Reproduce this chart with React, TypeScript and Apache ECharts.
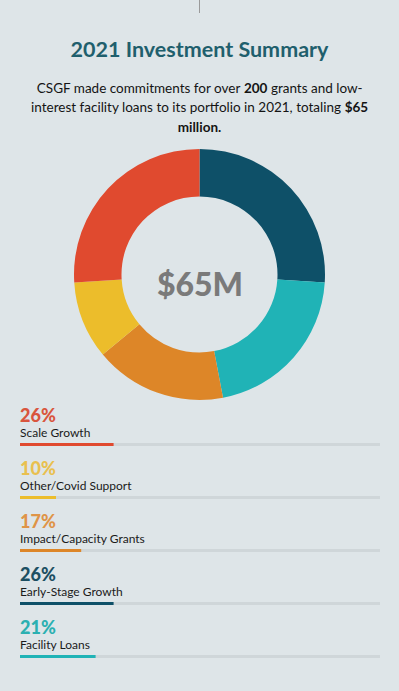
import React, { useEffect, useRef } from "react";
import * as echarts from "echarts";

const categories = ["Scale Growth", "Other/Covid Support", "Impact/Capacity Grants", "Early-Stage Growth", "Facility Loans"];
const shares = [26, 10, 17, 26, 21];
const barColors = ["#e04a2f", "#ecbd2b", "#dd8628", "#0e5068", "#20b3b6"];
const pctColors = ["#d9553d", "#e9c04f", "#df9447", "#1c4f62", "#2bb0b1"];
const pieOrder = [3, 4, 2, 1, 0];
const totalLabel = "$65M";
const titleText = "2021 Investment Summary";
const axisMax = 100;

export default function App() {
  const ref = useRef<HTMLDivElement>(null);
  useEffect(() => {
    if (!ref.current) return;
    const chart = echarts.init(ref.current, null, { renderer: "svg" });
    const rich: any = {
      n: { fontFamily: "Lato", fontSize: 12, color: "#1a1a1a", lineHeight: 15 },
    };
    pctColors.forEach((c, i) => {
      rich["p" + i] = { fontFamily: "Lato", fontSize: 18, fontWeight: 900, color: c, lineHeight: 19 };
    });
    const sub = { fontFamily: "Lato", fontSize: 13.5, lineHeight: 19.5, fill: "#141414" };
    chart.setOption({
      animation: false,
      backgroundColor: "#dee5e8",
      title: [
        {
          text: titleText,
          left: "center",
          top: 33,
          textStyle: { fontFamily: "Lato", fontWeight: "bold", fontSize: 21.5, color: "#1f5f6d" },
        },
      ],
      graphic: [
        { type: "line", shape: { x1: 199.5, y1: 0, x2: 199.5, y2: 13 }, style: { stroke: "#9a9a9a", lineWidth: 1 } },
        {
          type: "text",
          x: 199.5,
          y: 78,
          style: {
            text:
              "{r|CSGF made commitments for over }{b|200}{r| grants and low-}\n{r|interest facility loans to its portfolio in 2021, totaling }{b|$65}\n{b|million.}",
            align: "center",
            rich: { r: sub, b: { ...sub, fontWeight: "bold" } },
          },
        },
        {
          type: "text",
          x: 200,
          y: 283,
          style: { text: totalLabel, align: "center", verticalAlign: "middle", font: "900 32px Lato", fill: "#7a7a7a" },
        },
      ],
      grid: { left: 20, right: 19, top: 418, height: 265 },
      xAxis: { type: "value", min: 0, max: axisMax, show: false },
      yAxis: {
        type: "category",
        inverse: true,
        data: categories,
        axisLine: { show: false },
        axisTick: { show: false },
        splitLine: { show: false },
        axisLabel: {
          inside: true,
          interval: 0,
          margin: 0,
          align: "left",
          verticalAlign: "bottom",
          padding: [0, 0, 5, 0],
          formatter: (v: string, i: number) => `{p${i}|${shares[i]}%}\n{n|${v}}`,
          rich,
        },
      },
      series: [
        {
          type: "pie",
          center: [199.5, 274.5],
          radius: [78, 125.5],
          startAngle: 90,
          clockwise: true,
          silent: true,
          label: { show: false },
          labelLine: { show: false },
          data: pieOrder.map((i) => ({ name: categories[i], value: shares[i], itemStyle: { color: barColors[i] } })),
        },
        {
          type: "bar",
          barWidth: 3,
          silent: true,
          showBackground: true,
          backgroundStyle: { color: "#cfd6d9" },
          data: shares.map((v, i) => ({ value: v, itemStyle: { color: barColors[i] } })),
        },
      ],
    });
    return () => chart.dispose();
  }, []);
  return <div ref={ref} style={{ position: "absolute", left: 0, top: 0, width: 399, height: 691 }} />;
}
